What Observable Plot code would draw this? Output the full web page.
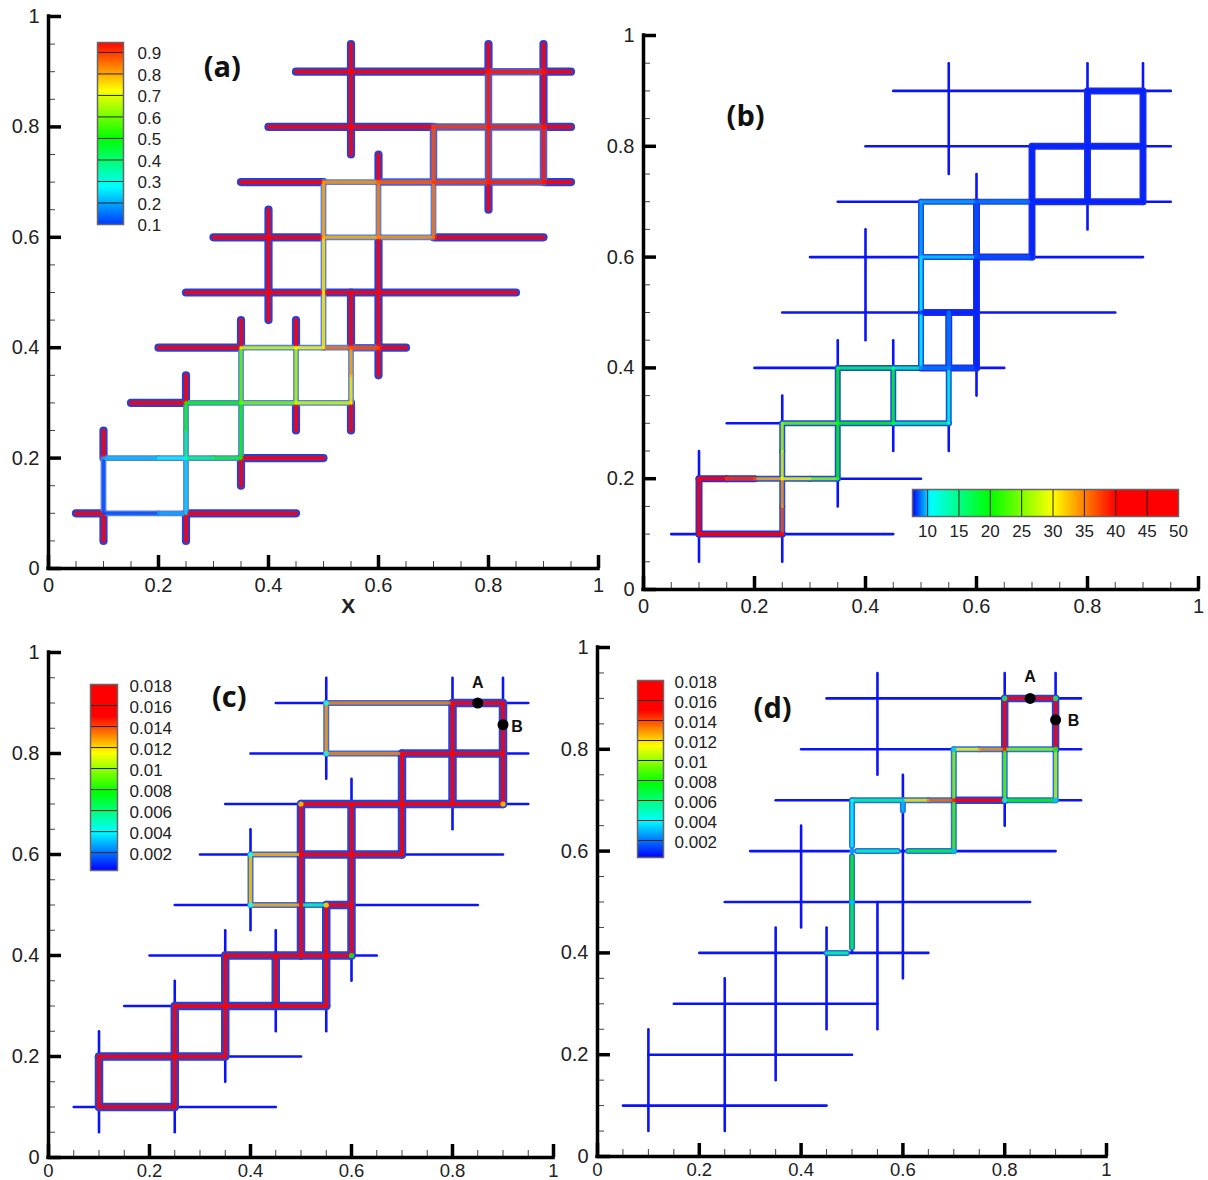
<!DOCTYPE html>
<html><head><meta charset="utf-8">
<script src="https://cdn.jsdelivr.net/npm/d3@7"></script>
<script src="https://cdn.jsdelivr.net/npm/@observablehq/plot@0.6"></script>
<style>
html,body{margin:0;padding:0;background:#fff;}
#page{position:relative;width:1208px;height:1180px;overflow:hidden;}
.pane{position:absolute;}
svg g[aria-label="link"]{filter:blur(.5px);}
</style></head><body><div id="page"></div>
<script>
// fracture skeleton shared by panels b, c, d: [fixed coordinate, start, end]
const horizontalFractures = [[.1,.05,.45],[.2,.1,.5],[.3,.15,.55],[.4,.2,.65],[.5,.25,.85],[.6,.3,.9],[.7,.35,.95],[.8,.4,.95],[.9,.45,.95]];
const verticalFractures = [[.1,.05,.25],[.25,.05,.35],[.35,.15,.45],[.45,.25,.45],[.55,.25,.5],[.4,.45,.65],[.5,.4,.7],[.6,.35,.75],[.7,.6,.8],[.8,.65,.95],[.9,.7,.95],[.55,.75,.95]];
const majorTicks = [0,.2,.4,.6,.8,1];
const minorTicks = [.05,.1,.15,.25,.3,.35,.45,.5,.55,.65,.7,.75,.85,.9,.95];

// panel (a): parts of the fractures still saturated (value above the scale's top), [x1,y1,x2,y2]
const saturatedA = [
 [.05,.1,.1,.1],[.25,.1,.45,.1],[.35,.2,.5,.2],[.15,.3,.25,.3],[.2,.4,.35,.4],[.6,.4,.65,.4],[.25,.5,.85,.5],
 [.3,.6,.5,.6],[.7,.6,.9,.6],[.35,.7,.5,.7],[.9,.7,.95,.7],[.4,.8,.7,.8],[.9,.8,.95,.8],[.45,.9,.8,.9],[.9,.9,.95,.9],
 [.1,.05,.1,.1],[.1,.2,.1,.25],[.25,.05,.25,.1],[.25,.3,.25,.35],[.35,.15,.35,.2],[.35,.4,.35,.45],[.45,.25,.45,.3],[.45,.4,.45,.45],
 [.55,.25,.55,.3],[.55,.4,.55,.5],[.4,.45,.4,.65],[.6,.35,.6,.6],[.6,.7,.6,.75],[.8,.65,.8,.7],[.8,.9,.8,.95],[.9,.8,.9,.95],[.55,.75,.55,.95]
];
// edges: [x1,y1,x2,y2,value]
const edgesAHeavy = [
 [.55,.4,.6,.4,.88],[.6,.7,.7,.7,.87],[.7,.7,.7,.8,.88],[.7,.8,.8,.8,.9],[.8,.8,.9,.8,.92],[.7,.7,.8,.7,.9],[.8,.7,.9,.7,.92],
 [.8,.7,.8,.8,.92],[.8,.8,.8,.9,.93],[.9,.7,.9,.8,.93],[.8,.9,.9,.9,.93]
];
const edgesALight = [
 [.1,.1,.2,.1,.12],[.2,.1,.25,.1,.2],[.1,.1,.1,.2,.12],[.25,.1,.25,.2,.24],[.25,.2,.25,.25,.38],[.25,.25,.25,.3,.48],
 [.1,.2,.2,.2,.22],[.2,.2,.25,.2,.27],[.25,.2,.3,.2,.38],[.3,.2,.35,.2,.46],[.35,.2,.35,.3,.5],[.35,.3,.35,.4,.58],
 [.25,.3,.35,.3,.5],[.35,.3,.45,.3,.6],[.45,.3,.55,.3,.68],[.45,.3,.45,.4,.66],[.55,.3,.55,.35,.74],[.55,.35,.55,.4,.8],
 [.35,.4,.45,.4,.68],[.45,.4,.5,.4,.72],[.5,.4,.55,.4,.85],
 [.5,.4,.5,.5,.74],[.5,.5,.5,.6,.75],[.5,.6,.5,.7,.8],[.5,.6,.6,.6,.79],[.6,.6,.7,.6,.82],[.5,.7,.6,.7,.82],
 [.6,.6,.6,.7,.84],[.7,.6,.7,.7,.85]
];
const edgesBHeavy = [
 [.1,.1,.25,.1,45],[.1,.1,.1,.2,45],[.1,.2,.15,.2,43],[.15,.2,.2,.2,38],
 [.5,.4,.55,.4,9],[.55,.4,.6,.4,8.5],[.5,.5,.55,.5,8],[.55,.5,.6,.5,8],[.6,.4,.6,.5,8],[.6,.5,.6,.6,8],[.6,.6,.6,.7,8.5],
 [.6,.6,.7,.6,8.5],[.7,.6,.7,.7,8],[.7,.7,.7,.8,8],[.7,.7,.8,.7,8],[.8,.7,.9,.7,8],[.7,.8,.8,.8,8],[.8,.8,.9,.8,8],
 [.8,.7,.8,.8,8],[.8,.8,.8,.9,8],[.9,.7,.9,.8,8],[.9,.8,.9,.9,8],[.8,.9,.9,.9,8],[.55,.4,.55,.5,9]
];
const edgesBLight = [
 [.2,.2,.25,.2,33],[.25,.2,.3,.2,30],[.3,.2,.35,.2,26],[.25,.1,.25,.15,37],[.25,.15,.25,.2,34],[.25,.2,.25,.25,29],[.25,.25,.25,.3,27],
 [.25,.3,.35,.3,24],[.35,.3,.45,.3,20],[.45,.3,.55,.3,15],[.35,.2,.35,.3,20],[.35,.3,.35,.4,20],[.45,.3,.45,.4,19],[.55,.3,.55,.4,12],
 [.35,.4,.45,.4,17],[.45,.4,.5,.4,14],[.5,.4,.5,.5,11],[.5,.5,.5,.6,10.5],[.5,.6,.5,.7,9.5],[.5,.6,.6,.6,10],[.5,.7,.6,.7,9.5],[.6,.7,.7,.7,9]
];
const edgesCHeavy = [
 [.1,.1,.25,.1,.017],[.1,.1,.1,.2,.017],[.1,.2,.25,.2,.017],[.25,.2,.35,.2,.017],[.25,.1,.25,.2,.017],[.25,.2,.25,.3,.017],
 [.25,.3,.35,.3,.017],[.35,.3,.45,.3,.017],[.45,.3,.55,.3,.017],[.35,.2,.35,.3,.017],[.35,.3,.35,.4,.017],[.45,.3,.45,.4,.017],
 [.55,.3,.55,.4,.017],[.55,.4,.55,.5,.017],[.35,.4,.45,.4,.017],[.45,.4,.5,.4,.017],[.5,.4,.55,.4,.017],[.55,.4,.6,.4,.017],
 [.5,.4,.5,.5,.017],[.5,.5,.5,.6,.017],[.5,.6,.5,.7,.017],[.6,.4,.6,.5,.017],[.6,.5,.6,.6,.017],[.6,.6,.6,.7,.017],[.55,.5,.6,.5,.017],
 [.5,.6,.6,.6,.017],[.6,.6,.7,.6,.017],[.7,.6,.7,.7,.017],[.7,.7,.7,.8,.017],[.5,.7,.6,.7,.017],[.6,.7,.7,.7,.017],[.7,.7,.8,.7,.017],[.8,.7,.9,.7,.017],
 [.7,.8,.8,.8,.017],[.8,.8,.9,.8,.017],[.8,.7,.8,.8,.017],[.8,.8,.8,.9,.017],[.9,.7,.9,.8,.017],[.9,.8,.9,.9,.017],[.8,.9,.9,.9,.017]
];
const edgesCLight = [
 [.55,.9,.8,.9,.0132],[.55,.8,.55,.9,.0128],[.55,.8,.7,.8,.0132],[.4,.6,.5,.6,.0125],[.4,.5,.4,.6,.0122],[.4,.5,.5,.5,.0125],[.5,.5,.55,.5,.0052]
];
const nodesC = [[.55,.9,.004],[.55,.8,.004],[.4,.6,.004],[.4,.5,.004],[.6,.4,.007],[.5,.7,.012],[.9,.7,.012],[.55,.5,.011]];
const edgesDHeavy = [
 [.8,.9,.9,.9,.0165],[.8,.8,.8,.9,.0165],[.9,.8,.9,.9,.0165],[.7,.7,.8,.7,.0165]
];
const edgesDLight = [
 [.7,.8,.75,.8,.0115],[.75,.8,.8,.8,.013],[.8,.8,.9,.8,.0098],[.7,.7,.7,.8,.0098],[.8,.7,.8,.8,.009],[.9,.7,.9,.8,.0105],[.8,.7,.9,.7,.0078],
 [.6,.7,.65,.7,.0118],[.65,.7,.7,.7,.0135],[.5,.7,.6,.7,.0055],[.7,.6,.7,.7,.0088],[.61,.6,.7,.6,.007],[.51,.6,.59,.6,.005],
 [.5,.61,.5,.7,.004],[.5,.5,.5,.59,.0078],[.5,.41,.5,.5,.007],[.45,.4,.49,.4,.0055],[.6,.68,.6,.7,.003]
];
const nodesD = [[.8,.9,.006],[.9,.9,.006],[.7,.8,.003],[.9,.7,.003],[.8,.7,.004],[.7,.6,.003],[.5,.6,.003],[.5,.5,.003],[.9,.8,.007]];

// probes: [x, y, name, label dx, label dy]
const probesC = [[.85,.9,"A",0,-20],[.9,.857,"B",14,2]];
const probesD = [[.85,.9,"A",0,-22],[.9,.858,"B",18,1]];

// colour stops
const stopsA = [.05,.275,.5,.725,.95];
const rainbow5 = ["#0000ff","#00ffff","#00ff00","#ffff00","#ff0000"];
const stopsB = [7.6,10.5,20,30,40,50];
const stopsCD = [.0003,.004,.0078,.0115,.015,.0185];
const rainbow6 = ["#0000ff","#00ffff","#00ff00","#ffff00","#ff0000","#ff0000"];

// legend levels
const levelsA = [.9,.8,.7,.6,.5,.4,.3,.2];
const labelsA = [.9,.8,.7,.6,.5,.4,.3,.2,.1];
const levelsB = [10,15,20,25,30,35,40,45];
const labelsB = [10,15,20,25,30,35,40,45,50];
const levelsCD = [.016,.014,.012,.01,.008,.006,.004,.002];
const labelsCD = [.018,.016,.014,.012,.01,.008,.006,.004,.002];

const fontMain = "'Liberation Sans', Arial, sans-serif";
const svgStyle = {background:"transparent",fontFamily:fontMain,overflow:"visible",maxWidth:"none"};
const page = document.getElementById("page");
function place(svg, left, top){
  const d = document.createElement("div");
  d.className = "pane"; d.style.left = left+"px"; d.style.top = top+"px";
  d.appendChild(svg); page.appendChild(d);
}
const L = (e,o)=>Plot.link(e,{x1:d=>d[0],y1:d=>d[1],x2:d=>d[2],y2:d=>d[3],strokeLinecap:"round",...o});
const hSeg = horizontalFractures.map(([y,a,b])=>[a,y,b,y]);
const vSeg = verticalFractures.map(([x,a,b])=>[x,a,x,b]);
const skeleton = hSeg.concat(vSeg);

function panel(p){
  const M = {l:60,t:22,r:30,b:44};
  const marks = [];
  const halo = "#2c3fd4";
  if (p.saturated){
    marks.push(L(p.saturated,{stroke:halo,strokeWidth:8.2}));
  } else {
    marks.push(L(skeleton,{stroke:"#0a14f5",strokeWidth:p.baseW}));
  }
  for (const g of p.groups) marks.push(L(g.edges,{stroke:g.halo||halo,strokeWidth:g.w}));
  if (p.saturated) marks.push(L(p.saturated,{stroke:"#ff0000",strokeOpacity:.82,strokeWidth:4.2}));
  for (const g of p.groups) marks.push(L(g.edges,{stroke:d=>d[4],strokeOpacity:.82,strokeWidth:g.core}));
  if (p.nodes) marks.push(Plot.dot(p.nodes,{x:d=>d[0],y:d=>d[1],r:2.6,fill:d=>d[2],fillOpacity:.8}));
  if (p.probes){
    marks.push(Plot.dot(p.probes,{x:d=>d[0],y:d=>d[1],r:5.5,fill:"#000"}));
    for (const q of p.probes)
      marks.push(Plot.text([q],{x:d=>d[0],y:d=>d[1],text:d=>d[2],dx:q[3],dy:q[4],fontSize:16,fontWeight:"bold",fontFamily:fontMain,fill:"#111"}));
  }
  marks.push(Plot.text([p.tag],{x:d=>d[1],y:d=>d[2],text:d=>d[0],fontSize:29,fontWeight:"bold",fontFamily:"'Open Sans'",fill:"#111"}));
  if (p.xLabel) marks.push(Plot.text([[.545,0,p.xLabel]],{x:d=>d[0],y:d=>d[1],text:d=>d[2],dy:38,fontSize:21,fontWeight:"bold",fontFamily:fontMain,fill:"#222"}));
  // axes
  const fs = p.fontSize||20, pad = p.xPad||22;
  marks.push(Plot.axisX({ticks:minorTicks,tickSize:-7,strokeWidth:1,stroke:"#444",tickFormat:()=>""}));
  marks.push(Plot.axisY({ticks:minorTicks,tickSize:-7,strokeWidth:1,stroke:"#444",tickFormat:()=>""}));
  marks.push(Plot.axisX({ticks:majorTicks,tickSize:-13,tickPadding:pad,strokeWidth:3.5,stroke:"#000",fill:"#222",fontSize:fs,lineAnchor:"top",tickFormat:d=>String(d),label:null}));
  marks.push(Plot.axisY({ticks:majorTicks,tickSize:-13,tickPadding:22,strokeWidth:3.5,stroke:"#000",fill:"#222",fontSize:20,tickFormat:d=>String(d),label:null}));
  marks.push(Plot.ruleX([0],{strokeWidth:3.5,stroke:"#000",strokeLinecap:"square"}));
  marks.push(Plot.ruleY([0],{strokeWidth:3.5,stroke:"#000",strokeLinecap:"square"}));
  const svg = Plot.plot({
    width:M.l+p.w+M.r, height:M.t+p.h+M.b,
    marginLeft:M.l, marginTop:M.t, marginRight:M.r, marginBottom:M.b,
    style:svgStyle,
    x:{domain:[0,1]}, y:{domain:[0,1]},
    color:{type:"linear",domain:p.domain,range:p.range,clamp:true},
    marks
  });
  place(svg,p.x0-M.l,p.y0-M.t);
}

function legendV(o){
  const svg = Plot.plot({
    width:o.bw+70, height:o.bh+24, marginLeft:0, marginRight:70, marginTop:12, marginBottom:12,
    style:svgStyle,
    x:{domain:[0,1],axis:null}, y:{domain:[o.lo,o.hi],axis:null},
    color:{type:"linear",domain:o.domain,range:o.range,clamp:true},
    marks:[
      Plot.raster({fill:(x,y)=>y,x1:0,x2:1,y1:o.lo,y2:o.hi,pixelSize:1}),
      Plot.ruleY(o.levels,{stroke:"#222",strokeWidth:1}),
      Plot.frame({stroke:"#666",strokeWidth:1.5}),
      Plot.axisY({ticks:o.labels,anchor:"right",tickSize:0,tickPadding:o.pad,fontSize:17,fill:"#222",dy:o.dy,tickFormat:d=>String(d),label:null})
    ]
  });
  place(svg,o.x,o.y-12);
}
function legendH(o){
  const svg = Plot.plot({
    width:o.bw+30, height:o.bh+40, marginLeft:10, marginRight:20, marginTop:0, marginBottom:40,
    style:svgStyle,
    x:{domain:[o.lo,o.hi],axis:null}, y:{domain:[0,1],axis:null},
    color:{type:"linear",domain:o.domain,range:o.range,clamp:true},
    marks:[
      Plot.raster({fill:(x,y)=>x,x1:o.lo,x2:o.hi,y1:0,y2:1,pixelSize:1}),
      Plot.ruleX(o.levels,{stroke:"#222",strokeWidth:1}),
      Plot.frame({stroke:"#666",strokeWidth:1.5}),
      Plot.axisX({ticks:o.labels,anchor:"bottom",tickSize:0,tickPadding:8,fontSize:17,fill:"#222",lineAnchor:"top",tickFormat:d=>String(d),label:null})
    ]
  });
  place(svg,o.x-10,o.y);
}

panel({x0:48,y0:16,w:550,h:552,domain:stopsA,range:rainbow5,saturated:saturatedA,
  groups:[{edges:edgesALight,w:5.8,core:3.1,halo:"#5a7fe0"},{edges:edgesAHeavy,w:7.5,core:3.9,halo:"#4a5fd8"}],tag:["(a)",.316,.907],xLabel:"X"});
panel({x0:643,y0:35,w:555,h:554,domain:stopsB,range:rainbow6,baseW:2.6,
  groups:[{edges:edgesBLight,w:6,core:3,halo:"#1d4be8"},{edges:edgesBHeavy,w:7,core:4.2,halo:"#2030e0"}],tag:["(b)",.184,.854]});
panel({x0:48,y0:652,w:505,h:505,domain:stopsCD,range:rainbow6,baseW:2.6,nodes:nodesC,probes:probesC,fontSize:18.5,xPad:19.5,
  groups:[{edges:edgesCLight,w:6,core:3.1,halo:"#3f68d8"},{edges:edgesCHeavy,w:8.5,core:4}],tag:["(c)",.358,.911]});
panel({x0:597,y0:647,w:509,h:509,domain:stopsCD,range:rainbow6,baseW:2.6,nodes:nodesD,probes:probesD,fontSize:18.5,xPad:19,
  groups:[{edges:edgesDLight,w:6,core:3,halo:"#2a70e0"},{edges:edgesDHeavy,w:7.5,core:3.8}],tag:["(d)",.344,.88]});

legendV({x:97,y:42,bw:26,bh:182,lo:.1,hi:.946,domain:stopsA,range:rainbow5,levels:levelsA,labels:labelsA,pad:14,dy:1.5});
legendH({x:912,y:489,bw:266,bh:27,lo:7.6,hi:50,domain:stopsB,range:rainbow6,levels:levelsB,labels:labelsB});
legendV({x:90,y:684,bw:27,bh:186,lo:.0003,hi:.018,domain:stopsCD,range:rainbow6,levels:levelsCD,labels:labelsCD,pad:12,dy:2});
legendV({x:637,y:680,bw:26,bh:177,lo:.0003,hi:.018,domain:stopsCD,range:rainbow6,levels:levelsCD,labels:labelsCD,pad:11,dy:2});
</script></body></html>
